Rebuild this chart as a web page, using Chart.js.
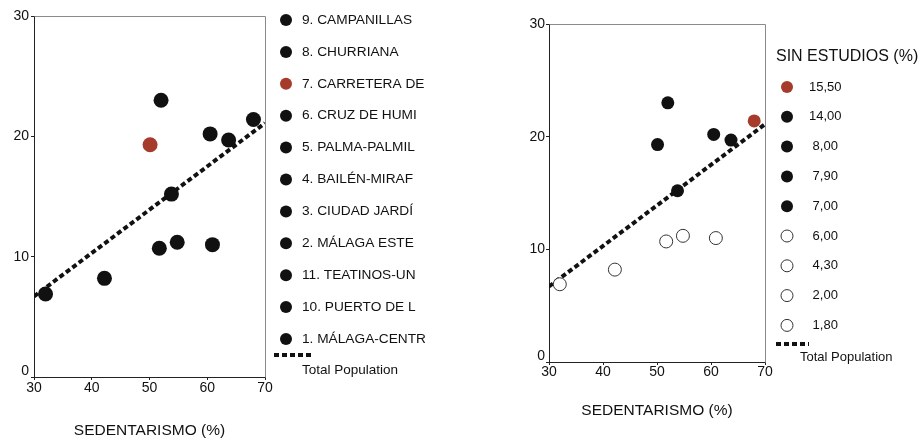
<!DOCTYPE html>
<html>
<head>
<meta charset="utf-8">
<title>Sedentarismo por distrito</title>
<script src="https://cdn.jsdelivr.net/npm/chart.js@4.4.1/dist/chart.umd.min.js"></script>
<style>
  html, body { margin: 0; padding: 0; background: #ffffff; }
  #wrap { position: relative; width: 921px; height: 438px; overflow: hidden; }
  canvas { position: absolute; top: 0; }
  #leftChart { left: 0; }
  #rightChart { left: 470px; }
</style>
</head>
<body>
<div id="wrap">
  <canvas id="leftChart" width="470" height="438"></canvas>
  <canvas id="rightChart" width="451" height="438"></canvas>
</div>
<script>
// ---- data -------------------------------------------------------------
const districts = [
  '9. CAMPANILLAS', '8. CHURRIANA', '7. CARRETERA DE', '6. CRUZ DE HUMI',
  '5. PALMA-PALMIL', '4. BAILÉN-MIRAF', '3. CIUDAD JARDÍ', '2. MÁLAGA ESTE',
  '11. TEATINOS-UN', '10. PUERTO DE L', '1. MÁLAGA-CENTR'
];
const sedentarismo = [60.9, 54.8, 50.1, 68.0, 52.0, 63.7, 60.5, 51.7, 32.0, 42.2, 53.8];
const yValues      = [11.0, 11.2, 19.3, 21.4, 23.0, 19.7, 20.2, 10.7, 6.9, 8.2, 15.2];
const sinEstudios  = [6.00, 4.30, 8.00, 15.50, 14.00, 7.90, 7.00, 2.00, 1.80, 1.80, 7.00];
const sinEstudiosLevels = [15.50, 14.00, 8.00, 7.90, 7.00, 6.00, 4.30, 2.00, 1.80];
const highlightedDistrict = '7. CARRETERA DE';
const xTicks = [30, 40, 50, 60, 70];
const yTicks = [0, 10, 20, 30];
const fitLineX = [30, 70];
const fitLineY = [6.7, 21.1];
const xTitle = 'SEDENTARISMO (%)';
const legendTitle = 'SIN ESTUDIOS (%)';
const fitLabel = 'Total Population';

// ---- styling ----------------------------------------------------------
const FONT = "'Liberation Sans', Arial, Helvetica, sans-serif";
const INK = '#111111';
const RED = '#a63b2c';
Chart.defaults.font.family = FONT;
Chart.defaults.color = INK;

const fmtLevel = v => v.toFixed(2).replace('.', ',').padStart(5, ' ');

// Grey frame on the top and right edges of the plot area
const plotFrame = {
  id: 'plotFrame',
  beforeDatasetsDraw(chart, args, o) {
    const { ctx, chartArea: a } = chart;
    const L = Math.round(a.left) + 0.5, T = Math.round(a.top) + 0.5;
    const R = Math.round(a.right) + 0.5, B = Math.round(a.bottom) + 0.5;
    ctx.save();
    ctx.strokeStyle = o.color;
    ctx.lineWidth = o.width;
    ctx.beginPath();
    ctx.moveTo(L, T);
    ctx.lineTo(R, T);
    ctx.lineTo(R, B);
    ctx.stroke();
    ctx.restore();
  }
};

// Legend column drawn beside the plot, built from the datasets
const sideLegend = {
  id: 'sideLegend',
  afterDraw(chart, args, o) {
    const ctx = chart.ctx;
    ctx.save();
    ctx.textBaseline = 'middle';
    ctx.textAlign = 'left';
    if (o.title) {
      ctx.font = o.titleSize + 'px ' + FONT;
      ctx.fillStyle = INK;
      ctx.fillText(o.title, o.titleX, o.titleY);
    }
    ctx.font = o.size + 'px ' + FONT;
    let row = 0;
    chart.data.datasets.forEach(ds => {
      if (ds.type === 'line') return;
      const y = o.top + row * o.step;
      ctx.beginPath();
      ctx.arc(o.markerX, y, o.radius, 0, Math.PI * 2);
      ctx.fillStyle = ds.backgroundColor;
      ctx.fill();
      if (ds.borderWidth > 0) {
        ctx.lineWidth = ds.borderWidth;
        ctx.strokeStyle = ds.borderColor;
        ctx.stroke();
      }
      ctx.fillStyle = INK;
      ctx.fillText(ds.label, o.textX, y);
      row++;
    });
    const fit = chart.data.datasets.find(d => d.type === 'line');
    ctx.setLineDash(fit.borderDash);
    ctx.lineWidth = fit.borderWidth;
    ctx.strokeStyle = fit.borderColor;
    ctx.beginPath();
    ctx.moveTo(o.dashX0, o.dashY);
    ctx.lineTo(o.dashX1, o.dashY);
    ctx.stroke();
    ctx.setLineDash([]);
    ctx.fillStyle = INK;
    ctx.font = o.fitSize + 'px ' + FONT;
    ctx.fillText(fit.label, o.fitTextX, o.fitTextY);
    ctx.restore();
  }
};

function fitLineDataset() {
  return {
    type: 'line',
    label: fitLabel,
    data: fitLineX.map((x, i) => ({ x, y: fitLineY[i] })),
    borderColor: INK,
    borderWidth: 4,
    borderDash: [5, 3],
    pointRadius: 0,
    fill: false,
    order: 2
  };
}

function axes(p) {
  return {
    x: {
      type: 'linear', min: 30, max: 70,
      afterBuildTicks: s => { s.ticks = xTicks.map(v => ({ value: v })); },
      grid: { drawOnChartArea: false, drawTicks: true, tickLength: 3, color: '#222', tickWidth: 1 },
      border: { display: true, color: '#222', width: 1 },
      ticks: { font: { size: 14, lineHeight: 1 }, color: INK, padding: p.xTickPad, maxRotation: 0, autoSkip: false,
               callback: v => String(v) },
      title: { display: true, text: xTitle, color: INK, font: { size: p.titleSize, lineHeight: 1 }, padding: 0 },
      afterFit: s => { s.height = p.xHeight; }
    },
    y: {
      type: 'linear', min: 0, max: 30,
      afterBuildTicks: s => { s.ticks = yTicks.map(v => ({ value: v })); },
      grid: { drawOnChartArea: false, drawTicks: true, tickLength: 3, color: '#222', tickWidth: 1 },
      border: { display: true, color: '#222', width: 1 },
      ticks: {
        color: INK, padding: p.yTickPad, autoSkip: false,
        font: c => ({ size: 14, lineHeight: (c.tick && c.tick.value === 0) ? 0.8 : 1.2 }),
        callback: v => (v === 0 ? ['0', ''] : String(v))
      },
      afterFit: s => { s.width = 34; }
    }
  };
}

// ---- left panel: one series per district --------------------------------
const leftSets = districts.map((name, i) => {
  const c = name === highlightedDistrict ? RED : INK;
  return {
    type: 'scatter',
    label: name,
    data: [{ x: sedentarismo[i], y: yValues[i] }],
    backgroundColor: c, borderColor: c, borderWidth: 0,
    pointRadius: 7.5, pointHoverRadius: 7.5, order: 1
  };
});
leftSets.push(fitLineDataset());

new Chart(document.getElementById('leftChart'), {
  type: 'scatter',
  data: { datasets: leftSets },
  options: {
    responsive: false, animation: false, events: [],
    layout: { padding: { left: 0, right: 205, top: 16, bottom: 0 } },
    scales: axes({ xHeight: 61, xTickPad: 1, yTickPad: 2, titleSize: 15.5 }),
    plugins: {
      legend: { display: false }, tooltip: { enabled: false },
      plotFrame: { color: '#8a8a8a', width: 1 },
      sideLegend: {
        size: 13.7, markerX: 286, textX: 302, top: 20, step: 31.9, radius: 6,
        dashX0: 274, dashX1: 311, dashY: 355, fitSize: 13.5, fitTextX: 302, fitTextY: 370
      }
    }
  },
  plugins: [plotFrame, sideLegend]
});

// ---- right panel: one series per "sin estudios" level ---------------------
const rightSets = sinEstudiosLevels.map(level => {
  const pts = [];
  sinEstudios.forEach((v, i) => { if (v === level) pts.push({ x: sedentarismo[i], y: yValues[i] }); });
  const top = level === sinEstudiosLevels[0];
  const filled = level >= 7;
  return {
    type: 'scatter',
    label: fmtLevel(level),
    data: pts,
    backgroundColor: top ? RED : (filled ? INK : '#ffffff'),
    borderColor: top ? RED : (filled ? INK : '#333333'),
    borderWidth: filled ? 0 : 1,
    pointRadius: 6.5, pointHoverRadius: 6.5, order: 1
  };
});
rightSets.push(fitLineDataset());

new Chart(document.getElementById('rightChart'), {
  type: 'scatter',
  data: { datasets: rightSets },
  options: {
    responsive: false, animation: false, events: [],
    layout: { padding: { left: 45, right: 156, top: 24, bottom: 20 } },
    scales: axes({ xHeight: 56, xTickPad: 0, yTickPad: 1, titleSize: 15.5 }),
    plugins: {
      legend: { display: false }, tooltip: { enabled: false },
      plotFrame: { color: '#8a8a8a', width: 1 },
      sideLegend: {
        title: legendTitle, titleSize: 16, titleX: 306, titleY: 57,
        size: 13, markerX: 317, textX: 339, top: 87, step: 29.8, radius: 6,
        dashX0: 306, dashX1: 339, dashY: 344, fitSize: 13, fitTextX: 330, fitTextY: 357
      }
    }
  },
  plugins: [plotFrame, sideLegend]
});
</script>
</body>
</html>
